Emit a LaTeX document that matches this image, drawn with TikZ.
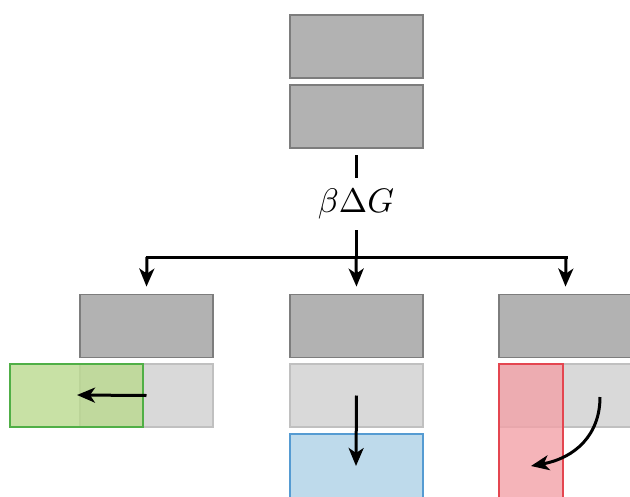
\documentclass[tikz,border=0pt]{standalone}
\usetikzlibrary{arrows.meta}
\definecolor{darkfill}{RGB}{178,178,178}
\definecolor{darkline}{RGB}{125,125,125}
\definecolor{lightfill}{RGB}{217,217,217}
\definecolor{lightline}{RGB}{192,192,192}
\definecolor{grnfill}{RGB}{186,217,142}
\definecolor{grnline}{RGB}{80,175,70}
\definecolor{blufill}{RGB}{190,218,235}
\definecolor{bluline}{RGB}{85,155,210}
\definecolor{redfill}{RGB}{242,161,167}
\definecolor{redline}{RGB}{228,70,80}
\tikzset{
  blk/.style={draw=darkline, fill=darkfill, line width=1.8pt, minimum width=133pt, minimum height=63pt, inner sep=0pt},
  pale/.style={draw=lightline, fill=lightfill, line width=1.8pt, minimum width=133pt, minimum height=63pt, inner sep=0pt},
  tint/.style={line width=1.8pt, inner sep=0pt, fill opacity=0.8, draw opacity=1},
  conn/.style={line width=3pt, line cap=butt},
  arr/.style={conn, -{Stealth[length=18pt, width=15pt, inset=5pt]}}
}
\begin{document}
\begin{tikzpicture}[x=1pt, y=-1pt]
\useasboundingbox (0,0) rectangle (630,496);

% upper pair
\node[blk] (top1) at (356.5,46.5) {};
\node[blk] (top2) at (356.5,116.5) {};

% energy label
\node[inner sep=0pt, scale=3.4] (dg) at (356,204) {$\beta\Delta G$};
\coordinate (s1) at (356,155);
\coordinate (s2) at (356,178);
\coordinate (s3) at (356,230);
\coordinate (j)  at (356,257);
\coordinate (jl) at (147,257);
\coordinate (jr) at (566,257);

% lower row
\node[blk]  (dl) at (146.5,326) {};
\node[blk]  (dm) at (356.5,326) {};
\node[blk]  (dr) at (565.5,326) {};
\node[pale] (gl) at (146.5,395.5) {};
\node[pale] (gm) at (356.5,395.5) {};
\node[pale] (gr) at (565.5,395.5) {};

% outcomes
\node[tint, draw=grnline, fill=grnfill, minimum width=133pt, minimum height=63pt] (green) at (76.5,395.5) {};
\node[draw=bluline, fill=blufill, line width=1.8pt, inner sep=0pt, minimum width=133pt, minimum height=66pt] (blue) at (356.5,467) {};
\node[tint, draw=redline, fill=redfill, minimum width=64pt, minimum height=140pt] (red) at (531,434) {};

% tree connectors
\draw[conn] (s1) -- (s2);
\draw[conn] (s3) -- (j);
\draw[conn, line cap=rect] (jl) -- (jr);
\draw[arr] (jl) -- ([yshift=7pt]dl.north);
\draw[arr] (j) -- ([yshift=7pt]dm.north);
\draw[arr] (jr) -- ([yshift=7pt]dr.north);

% moves
\coordinate (ge) at (77,395);
\draw[arr] (gl.center) -- (ge);
\coordinate (be) at (356,466);
\draw[arr] (gm.center) -- (be);
\coordinate (rs) at (600,397);
\coordinate (re) at (531,466);
\draw[arr] (rs) .. controls (600,435) and (575,458) .. (re);
\end{tikzpicture}
\end{document}
